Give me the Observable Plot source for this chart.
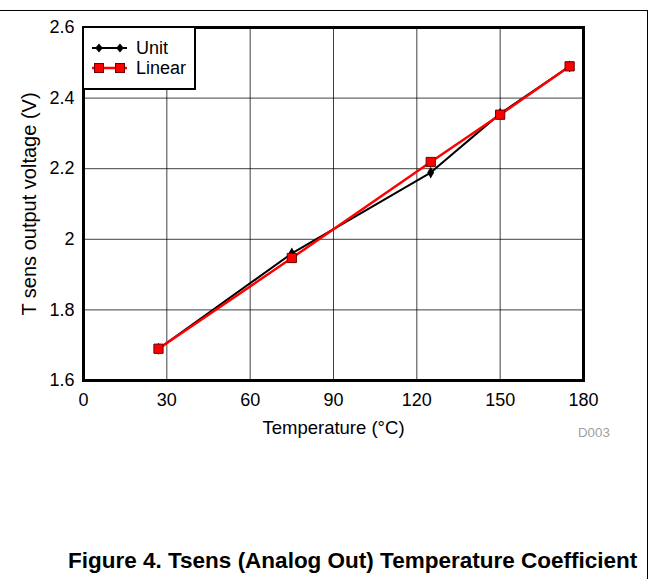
<!DOCTYPE html>
<html>
<head>
<meta charset="utf-8">
<script src="https://cdn.jsdelivr.net/npm/d3@7"></script>
<script src="https://cdn.jsdelivr.net/npm/@observablehq/plot@0.6"></script>
<style>
  html, body { margin: 0; padding: 0; background: #fff; }
  #wrap { position: relative; width: 649px; height: 579px; overflow: hidden; font-family: "Liberation Sans", Arial, sans-serif; }
  #chart { position: absolute; left: 0; top: 0; }
  #outer { position: absolute; left: -3px; top: 10px; width: 649.5px; height: 600px; border-top: 1.5px solid #000; border-right: 1.5px solid #000; pointer-events: none; }
  #legend { position: absolute; left: 82px; top: 26px; width: 110px; height: 60px; border: 2px solid #000; background: #fff; }
  #legend .row { position: absolute; left: 0; height: 20px; }
  #legend svg { position: absolute; left: 6px; top: 0; }
  #legend span { position: absolute; left: 52px; top: 0; font-size: 18px; line-height: 20px; white-space: nowrap; }
  #caption { position: absolute; left: 68px; top: 547px; font-size: 22.5px; font-weight: bold; white-space: nowrap; line-height: 28px; }
  #code { position: absolute; left: 578px; top: 425px; font-size: 13.3px; color: #a0a0a0; line-height: 16px; }
</style>
</head>
<body>
<div id="wrap">
  <div id="chart"></div>
  <div id="legend"></div>
  <div id="code"></div>
  <div id="caption"></div>
  <div id="outer"></div>
</div>
<script>
// ---- data ----
const temperatures = [27, 75, 125, 150, 175];
const unitValues   = [1.69, 1.96, 2.189, 2.356, 2.49];
const linearValues = [1.69, 1.947, 2.219, 2.353, 2.49];
const xTicks = [0, 30, 60, 90, 120, 150, 180];
const yTicks = [1.6, 1.8, 2.0, 2.2, 2.4, 2.6];
const seriesNames = ["Unit", "Linear"];
const xLabel = "Temperature (°C)";
const yLabel = "T sens output voltage (V)";
const captionText = "Figure 4. Tsens (Analog Out) Temperature Coefficient";
const codeText = "D003";

const unitData = temperatures.map((t, i) => ({t, v: unitValues[i]}));
const linearData = temperatures.map((t, i) => ({t, v: linearValues[i]}));

const chart = Plot.plot({
  width: 649,
  height: 450,
  marginLeft: 83,
  marginRight: 66,
  marginTop: 27,
  marginBottom: 70,
  style: {fontFamily: "'Liberation Sans', Arial, sans-serif", fontSize: "18px", color: "#000", background: "transparent", overflow: "visible"},
  x: {domain: [0, 180]},
  y: {domain: [1.6, 2.6]},
  marks: [
    Plot.gridX(xTicks, {stroke: "#000", strokeOpacity: 0.75, strokeWidth: 1}),
    Plot.gridY(yTicks, {stroke: "#000", strokeOpacity: 0.75, strokeWidth: 1}),
    Plot.axisX(xTicks, {tickSize: 0, tickPadding: 13, fontSize: 18, label: null}),
    Plot.axisX({ticks: [], label: xLabel, labelAnchor: "center", labelOffset: 53, labelArrow: "none", fontSize: 18.5}),
    Plot.axisY(yTicks, {tickSize: 0, tickPadding: 9, tickFormat: d => String(+d.toFixed(1)), fontSize: 18, label: null}),
    Plot.axisY({ticks: [], label: yLabel, labelAnchor: "center", labelOffset: 62, labelArrow: "none", fontSize: 20}),
    Plot.line(unitData, {x: "t", y: "v", stroke: "#000", strokeWidth: 2}),
    Plot.dot(unitData, {x: "t", y: "v", symbol: "diamond", fill: "#000", r: 3.6}),
    Plot.line(linearData, {x: "t", y: "v", stroke: "#ff0000", strokeWidth: 2.5}),
    Plot.dot(linearData, {x: "t", y: "v", symbol: "square", fill: "#ff0000", stroke: "#6a0000", strokeWidth: 1, r: 5.2}),
    Plot.frame({stroke: "#000", strokeWidth: 3})
  ]
});
document.getElementById("chart").appendChild(chart);

// legend
const legend = document.getElementById("legend");
const swatches = [
  {name: seriesNames[0], stroke: "#000", kind: "diamond", center: 20},
  {name: seriesNames[1], stroke: "#ff0000", kind: "square", center: 40}
];
for (const s of swatches) {
  const row = document.createElement("div");
  row.className = "row";
  row.style.top = (s.center - 10) + "px";
  row.style.width = "110px";
  const marker = (cx) => s.kind === "diamond"
    ? `<path d="M${cx},5.5 L${cx+3.8},10 L${cx},14.5 L${cx-3.8},10 Z" fill="#000"/>`
    : `<rect x="${cx-4.5}" y="5.5" width="9" height="9" fill="#ff0000" stroke="#6a0000" stroke-width="1"/>`;
  row.innerHTML = `<svg width="40" height="20"><line x1="2" x2="37" y1="10" y2="10" stroke="${s.stroke}" stroke-width="${s.kind === 'square' ? 2.5 : 2}"/>${marker(9)}${marker(30)}</svg><span>${s.name}</span>`;
  legend.appendChild(row);
}

document.getElementById("caption").textContent = captionText;
document.getElementById("code").textContent = codeText;
</script>
</body>
</html>
